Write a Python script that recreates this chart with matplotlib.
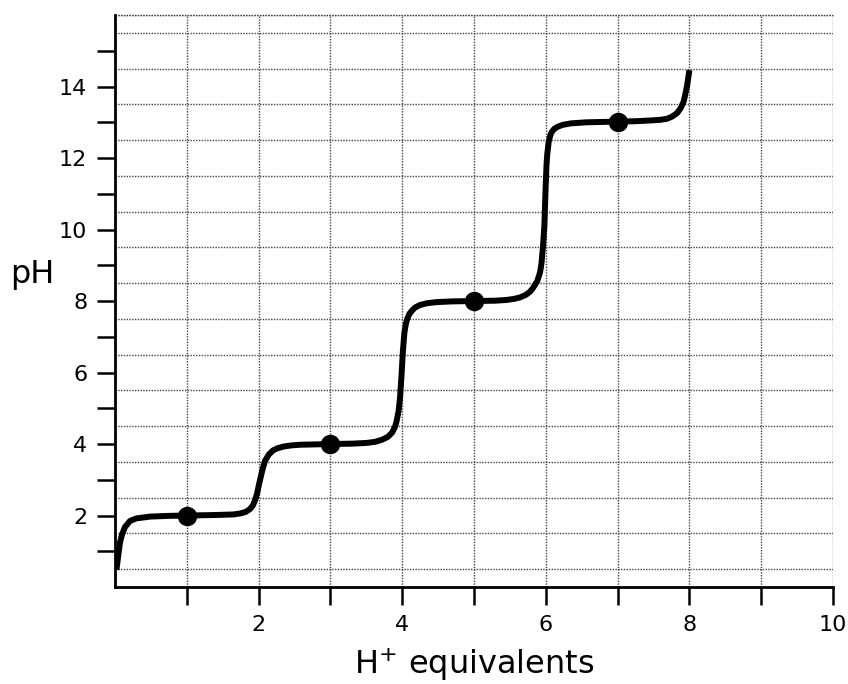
import matplotlib
matplotlib.use("Agg")
import matplotlib.pyplot as plt
from matplotlib.ticker import MultipleLocator, FixedLocator

# Titration curve
h_equiv = [0.02, 0.05, 0.07, 0.10, 0.14, 0.21, 0.30, 0.49, 0.75, 1.00, 1.30, 1.50,
           1.65, 1.75, 1.82, 1.88, 1.92, 1.95, 1.98, 2.00, 2.03, 2.06, 2.09, 2.14,
           2.20, 2.26, 2.35, 2.45, 2.58, 2.80, 3.00, 3.30, 3.50, 3.62, 3.72, 3.80,
           3.86, 3.90, 3.92, 3.95, 3.97, 3.99, 4.01, 4.03, 4.05, 4.07, 4.10, 4.14,
           4.18, 4.25, 4.35, 4.48, 4.70, 5.00, 5.30, 5.45, 5.56, 5.64, 5.72, 5.78,
           5.82, 5.88, 5.92, 5.94, 5.96, 5.98, 5.99, 6.00, 6.01, 6.02, 6.04, 6.06,
           6.08, 6.12, 6.17, 6.24, 6.35, 6.57, 6.80, 7.00, 7.25, 7.45, 7.60, 7.69,
           7.76, 7.83, 7.88, 7.92, 7.94, 7.97, 8.00]
ph = [0.48, 0.95, 1.25, 1.48, 1.68, 1.85, 1.92, 1.97, 1.99, 2.00, 2.01, 2.02,
      2.03, 2.06, 2.10, 2.18, 2.28, 2.42, 2.62, 2.82, 3.08, 3.33, 3.53, 3.70,
      3.82, 3.88, 3.93, 3.96, 3.98, 3.99, 4.00, 4.01, 4.03, 4.06, 4.12, 4.20,
      4.32, 4.48, 4.62, 4.92, 5.30, 5.90, 6.60, 7.10, 7.35, 7.50, 7.64, 7.74,
      7.82, 7.89, 7.94, 7.97, 7.99, 8.00, 8.01, 8.03, 8.06, 8.10, 8.17, 8.26,
      8.36, 8.55, 8.80, 9.05, 9.50, 10.10, 10.70, 11.30, 11.80, 12.10, 12.45, 12.62,
      12.72, 12.82, 12.88, 12.93, 12.97, 13.00, 13.01, 13.02, 13.03, 13.05, 13.07, 13.10,
      13.16, 13.26, 13.40, 13.58, 13.75, 14.05, 14.46]

half_points_x = [1, 3, 5, 7]
half_points_ph = [2, 4, 8, 13]

x_tick_values = [1, 2, 3, 4, 5, 6, 7, 8, 9, 10]
x_tick_labels = ["", "2", "", "4", "", "6", "", "8", "", "10"]
y_tick_values = [1, 2, 3, 4, 5, 6, 7, 8, 9, 10, 11, 12, 13, 14, 15]
y_tick_labels = ["", "2", "", "4", "", "6", "", "8", "", "10", "", "12", "", "14", ""]

fig = plt.figure(figsize=(8.48, 6.84), dpi=100)
ax = fig.add_axes([0.1356, 0.1418, 0.9823 - 0.1356, 0.978 - 0.1418])

ax.set_xlim(0, 10)
ax.set_ylim(0, 16)

ax.xaxis.set_major_locator(FixedLocator(x_tick_values))
ax.set_xticklabels(x_tick_labels)
ax.yaxis.set_major_locator(FixedLocator(y_tick_values))
ax.set_yticklabels(y_tick_labels)
ax.yaxis.set_minor_locator(MultipleLocator(0.5))

ax.tick_params(axis="both", which="major", direction="out", length=13, width=1.8,
               labelsize=16, color="black", pad=7)
ax.tick_params(axis="y", which="minor", length=0)

grid_color = "#444444"
ax.grid(True, axis="x", which="major", color=grid_color, linestyle=(0, (1, 1)), linewidth=1.0)
ax.grid(True, axis="y", which="minor", color=grid_color, linestyle=(0, (1, 1)), linewidth=1.0)
ax.set_axisbelow(True)

for side in ["top", "right"]:
    ax.spines[side].set_visible(False)
for side in ["left", "bottom"]:
    ax.spines[side].set_linewidth(2.0)

# grid line along the top border (pH 16)
ax.axhline(16, color=grid_color, linestyle=(0, (1, 1)), linewidth=1.0, clip_on=False, zorder=0.5)

ax.plot(h_equiv, ph, color="black", linewidth=4.3, solid_joinstyle="round",
        solid_capstyle="butt", zorder=3)
ax.plot(half_points_x, half_points_ph, "o", color="black", markersize=13, zorder=4)

ax.set_xlabel("H$^{+}$ equivalents", fontsize=23, labelpad=8)
ax.set_ylabel("pH", fontsize=23, rotation=0)
ax.yaxis.set_label_coords(-0.115, 0.52)

fig.savefig("out.png", dpi=100)
